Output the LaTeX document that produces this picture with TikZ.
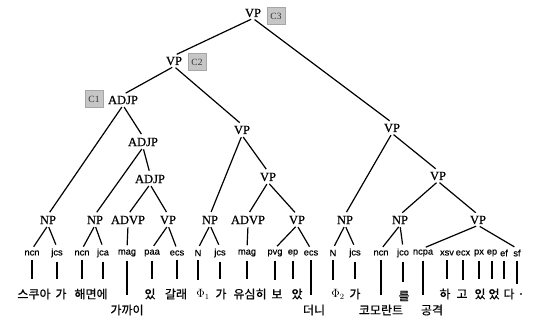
\documentclass[tikz,border=0pt]{standalone}
\usepackage{fontspec}
\setmainfont{Liberation Serif}
\newfontfamily\possf[FakeBold=0.5]{Liberation Sans}
\newfontfamily\kr[FakeBold=0.6]{Noto Sans CJK KR}
\newfontfamily\catfont[FakeBold=0.6]{Liberation Serif}
\begin{document}
\begin{tikzpicture}[x=1pt,y=-1pt,
  cat/.style={font=\catfont\fontsize{12.5}{13}\selectfont, inner sep=1pt},
  postag/.style={font=\possf\fontsize{9.3}{10}\selectfont, inner sep=1pt},
  wd/.style={font=\kr\fontsize{12}{13}\selectfont, inner sep=1pt},
  cbox/.style={fill=gray!45, draw=gray!70, minimum width=18pt, minimum height=17pt, inner sep=0pt, font=\fontsize{9.5}{10}\selectfont, text=black!80},
  br/.style={line width=1.2pt, shorten <=2pt, shorten >=3pt},
  vl/.style={line width=1.3pt, shorten <=3pt, shorten >=8pt}]
\useasboundingbox (0,0) rectangle (533,321);
% phrase nodes
\node[cat] (vp0) at (253,13) {VP};
\node[cbox] (c3) at (276,16) {C3};
\node[cat] (vp1) at (174,61) {VP};
\node[cbox] (c2) at (197,62) {C2};
\node[cat] (adjp1) at (123,100) {ADJP};
\node[cbox] (c1) at (94,99) {C1};
\node[cat] (adjp2) at (143,142) {ADJP};
\node[cat] (adjp3) at (150,179) {ADJP};
\node[cat] (vpm) at (242,130) {VP};
\node[cat] (vpm2) at (268,177) {VP};
\node[cat] (vpr) at (392,128) {VP};
\node[cat] (vpr2) at (438,176) {VP};
\node[cat] (npa) at (48,220) {NP};
\node[cat] (npb) at (95,220) {NP};
\node[cat] (advpa) at (128,220) {ADVP};
\node[cat] (vpa) at (168,220) {VP};
\node[cat] (npc) at (210,220) {NP};
\node[cat] (advpb) at (248,220) {ADVP};
\node[cat] (vpb) at (297,220) {VP};
\node[cat] (npd) at (345,220) {NP};
\node[cat] (npe) at (400,220) {NP};
\node[cat] (vpc) at (478,220) {VP};
% POS tags
\node[postag] (t1) at (32,253) {ncn};
\node[postag] (t2) at (57,253) {jcs};
\node[postag] (t3) at (82,253) {ncn};
\node[postag] (t4) at (103,253) {jca};
\node[postag] (t5) at (127,253) {mag};
\node[postag] (t6) at (152,253) {paa};
\node[postag] (t7) at (177,253) {ecs};
\node[postag] (t8) at (198,253) {N};
\node[postag] (t9) at (220,253) {jcs};
\node[postag] (t10) at (247,253) {mag};
\node[postag] (t11) at (275,253) {pvg};
\node[postag] (t12) at (293,253) {ep};
\node[postag] (t13) at (311,253) {ecs};
\node[postag] (t14) at (333,253) {N};
\node[postag] (t15) at (355,253) {jcs};
\node[postag] (t16) at (381,253) {ncn};
\node[postag] (t17) at (403,253) {jco};
\node[postag] (t18) at (423,253) {ncpa};
\node[postag] (t19) at (447,253) {xsv};
\node[postag] (t20) at (463,253) {ecx};
\node[postag] (t21) at (479,253) {px};
\node[postag] (t22) at (492,253) {ep};
\node[postag] (t23) at (504,253) {ef};
\node[postag] (t24) at (517,253) {sf};
% words
\node[wd] (w1) at (34,294) {스쿠아};
\node[wd] (w2) at (61,294) {가};
\node[wd] (w3) at (91,294) {해면에};
\node[wd] (w4) at (127,310) {가까이};
\node[wd] (w5) at (150,294) {있};
\node[wd] (w6) at (176,294) {갈래};
\node[wd] (w7) at (203,294) {$\Phi_1$};
\node[wd] (w8) at (221,294) {가};
\node[wd] (w9) at (250,294) {유심히};
\node[wd] (w10) at (277,294) {보};
\node[wd] (w11) at (297,294) {았};
\node[wd] (w12) at (314,310) {더니};
\node[wd] (w13) at (338,294) {$\Phi_2$};
\node[wd] (w14) at (355,294) {가};
\node[wd] (w15) at (381,310) {코모란트};
\node[wd] (w16) at (404,296) {를};
\node[wd] (w17) at (432,310) {공격};
\node[wd] (w18) at (445,294) {하};
\node[wd] (w19) at (462,294) {고};
\node[wd] (w20) at (480,294) {있};
\node[wd] (w21) at (494,294) {었};
\node[wd] (w22) at (509,294) {다};
\node[wd] (w23) at (521,294) {.};
% branches
\draw[br] (vp0.south) -- (vp1.north);
\draw[br] (vp0.south) -- (vpr.north);
\draw[br] (vp1.south) -- (adjp1.north);
\draw[br] (vp1.south) -- (vpm.north);
\draw[br] (adjp1.south) -- (npa.north);
\draw[br] (adjp1.south) -- (adjp2.north);
\draw[br] (adjp2.south) -- (npb.north);
\draw[br] (adjp2.south) -- (adjp3.north);
\draw[br] (adjp3.south) -- (advpa.north);
\draw[br] (adjp3.south) -- (vpa.north);
\draw[br] (vpm.south) -- (npc.north);
\draw[br] (vpm.south) -- (vpm2.north);
\draw[br] (vpm2.south) -- (advpb.north);
\draw[br] (vpm2.south) -- (vpb.north);
\draw[br] (vpr.south) -- (npd.north);
\draw[br] (vpr.south) -- (vpr2.north);
\draw[br] (vpr2.south) -- (npe.north);
\draw[br] (vpr2.south) -- (vpc.north);
\draw[br] (npa.south) -- (t1.north);
\draw[br] (npa.south) -- (t2.north);
\draw[br] (npb.south) -- (t3.north);
\draw[br] (npb.south) -- (t4.north);
\draw[br] (advpa.south) -- (t5.north);
\draw[br] (vpa.south) -- (t6.north);
\draw[br] (vpa.south) -- (t7.north);
\draw[br] (npc.south) -- (t8.north);
\draw[br] (npc.south) -- (t9.north);
\draw[br] (advpb.south) -- (t10.north);
\draw[br] (vpb.south) -- (t11.north);
\draw[br] (vpb.south) -- (t13.north);
\draw[br] (npd.south) -- (t14.north);
\draw[br] (npd.south) -- (t15.north);
\draw[br] (npe.south) -- (t16.north);
\draw[br] (npe.south) -- (t17.north);
\draw[br] (vpc.south) -- (t18.north);
\draw[br] (vpc.south) -- (t24.north);
% tag-to-word lines
\foreach \t/\w in {t1/w1,t2/w2,t3/w3,t4/w3,t5/w4,t6/w5,t7/w6,t8/w7,t9/w8,t10/w9,t11/w10,t12/w11,t13/w12,t14/w13,t15/w14,t16/w15,t17/w16,t18/w17,t19/w18,t20/w19,t21/w20,t22/w21,t23/w22,t24/w23}
  \draw[vl] (\t.south) -- (\t.south |- \w.north);
\end{tikzpicture}
\end{document}
